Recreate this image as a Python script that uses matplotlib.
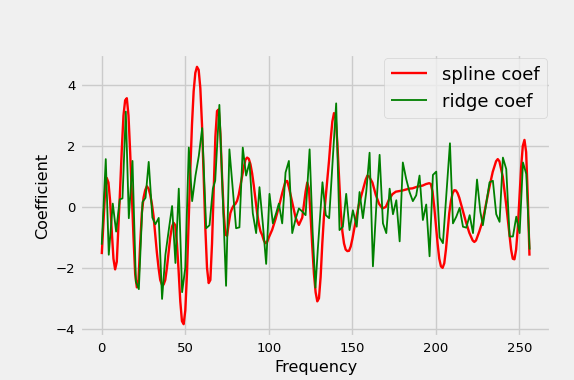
import numpy as np
import matplotlib
matplotlib.use("Agg")
import matplotlib.pyplot as plt

plt.style.use("fivethirtyeight")

# ridge coefficients (jagged line)
ridge_x = [0, 2.4, 4.2, 6.6, 8.6, 10.8, 12.4, 14.4, 16.2, 18.4, 20.4, 22.2, 24.4, 26.2, 28.1,
           30.3, 32.1, 34.1, 36.1, 38.1, 40.1, 42.1, 44.1, 46.1, 48.1, 50.0, 52.1, 54.1, 56.1,
           58.1, 60.1, 62.5, 64.5, 66.5, 67.9, 70.4, 74.4, 76.4, 80.4, 82.4, 84.4, 86.4, 88.4,
           90.4, 92.4, 94.4, 96.4, 98.4, 100.4, 102.4, 104.4, 106, 108, 110, 112, 114, 116,
           118, 120, 122, 124.4, 126.2, 127.9, 129.3, 132.1, 134.1, 136.1, 140.3, 142.3, 144.3,
           146.3, 148.3, 150.3, 152.6, 154.3, 156.3, 158.3, 160.3, 162.3, 164.3, 166.3, 168.3,
           170.3, 172.3, 174.3, 176.3, 178.3, 180.2, 182.2, 184.2, 186.2, 188.2, 190.2, 192.2,
           194.2, 196.2, 198.2, 200.2, 202.2, 204.2, 208.4, 210.2, 212.2, 214.2, 216.2, 218.2,
           220.2, 222.2, 224.6, 226.6, 228.1, 232.1, 234.1, 236.1, 238.1, 240.1, 242.1, 244.1,
           246.1, 248.1, 250.1, 252.1, 254.1, 256.1]
ridge_y = [-1.24, 1.57, -1.57, 0.11, -0.81, 0.25, 0.28, 3.13, -0.37, 1.51, -2.45, -2.7, 0.16, 0.3, 1.48,
           -0.35, -0.57, -0.36, -3.02, -1.57, -0.76, 0.03, -1.84, 0.6, -2.8, -1.99, 1.95, 0.19, 1.03,
           1.68, 2.59, -0.7, -0.6, 0.6, 0.86, 3.35, -2.59, 1.89, -0.7, -0.67, 1.95, 1.03, 1.46,
           -0.21, -0.86, 0.65, -0.55, -1.87, 0.43, -0.54, -0.2, 0.11, -0.54, 1.13, 1.51, -0.86, -0.4,
           -0.05, -0.15, -0.27, 1.89, -0.8, -2.65, -1.4, 0.81, -0.27, -0.37, 3.4, -0.76, -0.65,
           0.43, -0.76, -0.11, -0.65, 0.49, -0.37, 0.49, 1.78, -1.95, 0.0, 1.71, -0.54,
           -0.86, 0.6, -0.24, 0.22, -1.13, 1.46, 0.92, 0.49, 0.19, 0.38, 1.03, -0.43,
           0.08, -1.62, 1.05, 1.16, -1.0, -1.19, 2.09, -0.54, -0.32, -0.03, -0.65, -0.68,
           -0.27, -0.86, 0.9, -0.16, -0.6, 0.81, 0.86, -0.24, -0.49, 1.62, 1.24, -0.97,
           -0.97, -0.32, -0.86, 1.46, 1.08, -1.4]

# spline coefficients (smooth curve)
spline_x = [0, 1, 2, 3, 4, 5, 6, 7, 8, 9, 10, 11, 12, 13, 14, 15, 16, 17, 18, 19, 20,
            21, 22, 23, 24, 25, 26, 27, 28, 29, 30, 31, 32, 33, 34, 35, 36, 37, 38, 39, 40,
            41, 42, 43, 44, 45, 46, 47, 48, 49, 50, 51, 52, 53, 54, 55, 56, 57, 58, 59, 60,
            61, 62, 63, 64, 65, 66, 67, 68, 69, 70, 71, 72, 73, 74, 75, 76, 77, 78, 79, 80,
            81, 82, 83, 84, 85, 86, 87, 88, 89, 90, 91, 92, 93, 94, 95, 96, 97, 98, 99, 100,
            102, 104, 106, 108, 110, 111, 112, 114, 116, 118, 120, 122, 123, 124, 125, 126,
            127, 128, 129, 130, 131, 132, 133, 134, 135, 136, 137, 138, 139, 140, 141, 142,
            143, 144, 145, 146, 147, 148, 149, 150, 152, 154, 156, 158, 159, 160, 162, 164,
            166, 168, 170, 172, 174, 176, 178, 180, 182, 184, 186, 188, 190, 192, 194, 196,
            197, 198, 199, 200, 201, 202, 203, 204, 205, 206, 207, 208, 209, 210, 211, 212,
            213, 214, 216, 218, 220, 222, 223, 224, 226, 228, 230, 232, 234, 236, 237, 238,
            240, 242, 244, 245, 246, 247, 248, 249, 250, 251, 252, 253, 254, 255, 256]
spline_y = [-1.55, -0.5, 0.5, 0.95, 0.8, 0.2, -0.8, -1.7, -2.05, -1.8, -0.6, 0.6, 1.9, 3.0, 3.5,
            3.57, 3.0, 1.8, 0.4, -1.0, -2.2, -2.64, -2.4, -1.2, -0.2, 0.3, 0.55, 0.68, 0.6, 0.4,
            0.1, -0.3, -0.9, -1.5, -2.0, -2.4, -2.55, -2.55, -2.4, -2.0, -1.5, -1.0, -0.65, -0.52,
            -0.6, -1.2, -2.1, -3.1, -3.75, -3.85, -3.4, -2.2, -0.5, 1.2, 2.7, 3.8, 4.4, 4.6, 4.5,
            3.9, 2.7, 1.0, -0.7, -2.0, -2.5, -2.4, -1.2, 0.6, 2.3, 3.15, 3.2, 2.4, 1.0, -0.2,
            -0.9, -0.95, -0.55, -0.2, -0.05, 0.05, 0.1, 0.2, 0.4, 0.7, 1.0, 1.3, 1.55, 1.62,
            1.58, 1.4, 1.1, 0.7, 0.25, -0.2, -0.55, -0.8, -0.92, -1.1, -1.19, -1.15, -1.0,
            -0.75, -0.4, 0.0, 0.45, 0.85, 0.85, 0.65, 0.15, -0.35, -0.59, -0.35, 0.5, 0.8, 0.6,
            -0.3, -1.3, -2.2, -2.8, -3.1, -3.0, -2.3, -1.2, -0.3, 0.3, 0.9, 1.5, 2.2, 2.8, 3.08,
            2.9, 2.1, 1.0, -0.1, -0.8, -1.2, -1.4, -1.45, -1.44, -1.3, -1.05, -0.45, 0.1, 0.5,
            0.9, 1.03, 1.0, 0.8, 0.4, 0.1, -0.05, 0.0, 0.25, 0.42, 0.5, 0.52, 0.54, 0.57, 0.6,
            0.61, 0.65, 0.68, 0.7, 0.75, 0.78, 0.75, 0.5, 0.0, -0.6, -1.2, -1.7, -1.95, -2.0,
            -1.85, -1.4, -0.8, -0.2, 0.2, 0.45, 0.55, 0.54, 0.45, 0.3, -0.1, -0.5, -0.85, -1.1,
            -1.15, -1.1, -0.8, -0.45, 0.1, 0.65, 1.15, 1.5, 1.57, 1.5, 1.0, 0.1, -0.9, -1.4,
            -1.7, -1.72, -1.4, -0.7, 0.3, 1.3, 2.0, 2.2, 1.8, 0.3, -1.6]

fig = plt.figure(figsize=(5.74, 3.8), dpi=100)
ax = fig.add_axes([0.14, 0.113, 0.82, 0.745])
ax.plot(spline_x, spline_y, color="red", linewidth=1.7, label="spline coef")
ax.plot(ridge_x, ridge_y, color="green", linewidth=1.3, label="ridge coef")
ax.set_xlabel("Frequency", fontsize=11.5)
ax.set_ylabel("Coefficient", fontsize=11.5)
ax.tick_params(labelsize=9.5)
ax.set_xticks([0, 50, 100, 150, 200, 250])
ax.set_yticks([-4, -2, 0, 2, 4])
ax.legend(loc="upper right", fontsize=13, borderaxespad=0.25)
fig.savefig("out.png", dpi=100)
